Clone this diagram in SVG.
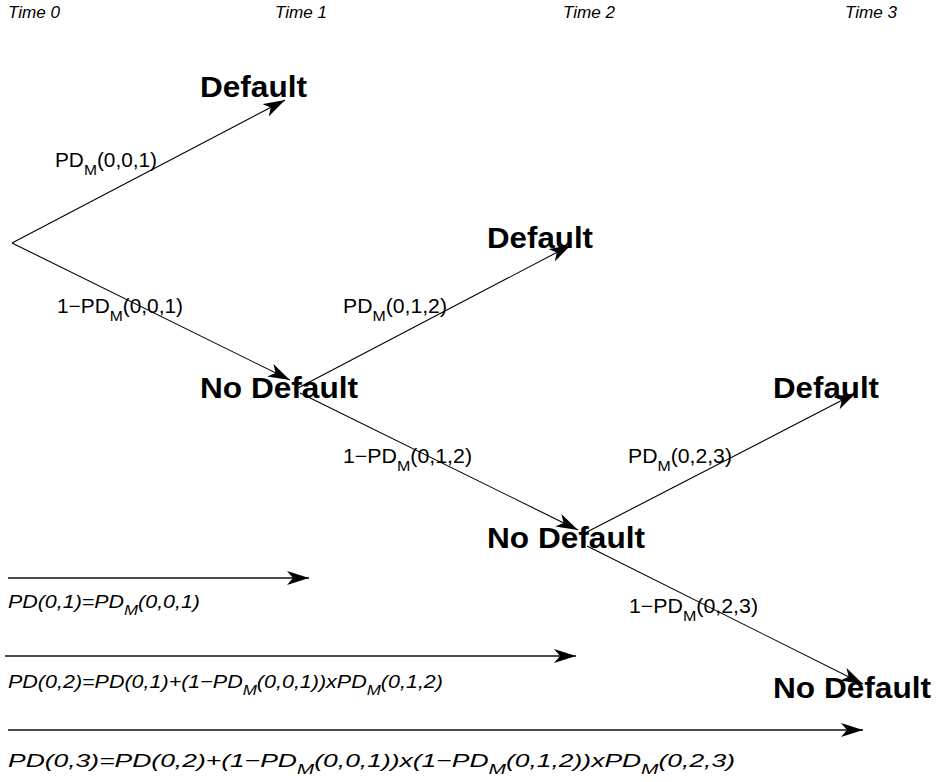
<svg xmlns="http://www.w3.org/2000/svg" width="939" height="782" viewBox="0 0 939 782">
<defs>
<marker id="ah" markerUnits="userSpaceOnUse" markerWidth="24" markerHeight="16" refX="22" refY="7" orient="auto">
<path d="M0,0 L22,7 L0,14 L6,7 Z" fill="#000"/>
</marker>
</defs>
<style>
.time{font-family:"Liberation Sans",Arial,sans-serif;font-style:italic;font-size:17px;fill:#000}
.node{font-family:"Liberation Sans",Arial,sans-serif;font-weight:bold;font-size:30px;fill:#000}
.lbl{font-family:"Liberation Sans",Arial,sans-serif;font-size:20px;fill:#000}
.frm{font-family:"Liberation Sans",Arial,sans-serif;font-style:italic;font-size:19px;fill:#000}
.sub{font-size:15px}
.edge{stroke:#000;stroke-width:1.1;fill:none;marker-end:url(#ah)}
.harr{stroke:#111;stroke-width:1.3;fill:none;marker-end:url(#ah)}
</style>
<rect width="939" height="782" fill="#fff"/>
<g id="time-labels">
<text class="time" x="8" y="18" textLength="52" lengthAdjust="spacingAndGlyphs">Time 0</text>
<text class="time" x="275" y="18" textLength="52" lengthAdjust="spacingAndGlyphs">Time 1</text>
<text class="time" x="563" y="18" textLength="52" lengthAdjust="spacingAndGlyphs">Time 2</text>
<text class="time" x="845" y="18" textLength="52" lengthAdjust="spacingAndGlyphs">Time 3</text>
</g>
<g id="connectors">
<line class="edge" x1="12" y1="243" x2="285" y2="100"/>
<line class="edge" x1="12" y1="243" x2="290" y2="380"/>
<line class="edge" x1="298" y1="388" x2="571" y2="245"/>
<line class="edge" x1="300" y1="393" x2="578" y2="530"/>
<line class="edge" x1="585" y1="533" x2="856" y2="393"/>
<line class="edge" x1="587" y1="546" x2="863" y2="684"/>
<line class="harr" x1="8" y1="578" x2="309" y2="578"/>
<line class="harr" x1="5" y1="656" x2="576" y2="656"/>
<line class="harr" x1="8" y1="730" x2="863" y2="730"/>
</g>
<g id="node-default-1"><text class="node" x="200" y="97" textLength="107" lengthAdjust="spacingAndGlyphs">Default</text></g>
<g id="node-nodefault-1"><text class="node" x="200" y="398" textLength="158" lengthAdjust="spacingAndGlyphs">No Default</text></g>
<g id="node-default-2"><text class="node" x="487" y="248" textLength="106" lengthAdjust="spacingAndGlyphs">Default</text></g>
<g id="node-nodefault-2"><text class="node" x="487" y="548" textLength="158" lengthAdjust="spacingAndGlyphs">No Default</text></g>
<g id="node-default-3"><text class="node" x="773" y="398" textLength="106" lengthAdjust="spacingAndGlyphs">Default</text></g>
<g id="node-nodefault-3"><text class="node" x="773" y="698" textLength="158" lengthAdjust="spacingAndGlyphs">No Default</text></g>
<g id="edge-labels">
<text class="lbl" x="55" y="167" textLength="102" lengthAdjust="spacingAndGlyphs">PD<tspan class="sub" dy="8">M</tspan><tspan dy="-8">(0,0,1)</tspan></text>
<text class="lbl" x="57" y="313" textLength="126" lengthAdjust="spacingAndGlyphs">1−PD<tspan class="sub" dy="8">M</tspan><tspan dy="-8">(0,0,1)</tspan></text>
<text class="lbl" x="343" y="313" textLength="104" lengthAdjust="spacingAndGlyphs">PD<tspan class="sub" dy="8">M</tspan><tspan dy="-8">(0,1,2)</tspan></text>
<text class="lbl" x="343" y="463" textLength="129" lengthAdjust="spacingAndGlyphs">1−PD<tspan class="sub" dy="8">M</tspan><tspan dy="-8">(0,1,2)</tspan></text>
<text class="lbl" x="628" y="463" textLength="104" lengthAdjust="spacingAndGlyphs">PD<tspan class="sub" dy="8">M</tspan><tspan dy="-8">(0,2,3)</tspan></text>
<text class="lbl" x="629" y="613" textLength="129" lengthAdjust="spacingAndGlyphs">1−PD<tspan class="sub" dy="8">M</tspan><tspan dy="-8">(0,2,3)</tspan></text>
</g>
<g id="formulas">
<text class="frm" x="8" y="608" textLength="192" lengthAdjust="spacingAndGlyphs">PD(0,1)=PD<tspan class="sub" dy="7">M</tspan><tspan dy="-7">(0,0,1)</tspan></text>
<text class="frm" x="8" y="688" textLength="435" lengthAdjust="spacingAndGlyphs">PD(0,2)=PD(0,1)+(1−PD<tspan class="sub" dy="7">M</tspan><tspan dy="-7">(0,0,1))xPD</tspan><tspan class="sub" dy="7">M</tspan><tspan dy="-7">(0,1,2)</tspan></text>
<text class="frm" x="8" y="767" textLength="727" lengthAdjust="spacingAndGlyphs">PD(0,3)=PD(0,2)+(1−PD<tspan class="sub" dy="7">M</tspan><tspan dy="-7">(0,0,1))x(1−PD</tspan><tspan class="sub" dy="7">M</tspan><tspan dy="-7">(0,1,2))xPD</tspan><tspan class="sub" dy="7">M</tspan><tspan dy="-7">(0,2,3)</tspan></text>
</g>
</svg>
